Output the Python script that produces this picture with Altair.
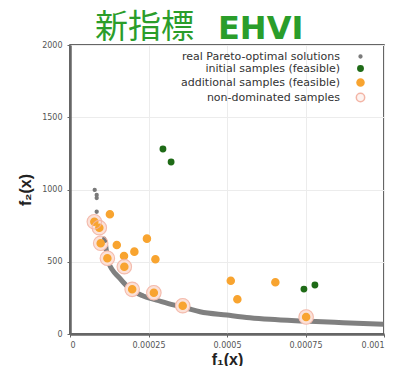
import altair as alt
import pandas as pd

# ---- data ----
curve_x = [0.000112, 0.000122, 0.000159, 0.000196, 0.000233, 0.000276, 0.000329,
           0.000372, 0.000414, 0.0005, 0.000573, 0.000637, 0.000743, 0.00087, 0.000998]
curve_y = [640, 500, 385, 304, 263, 235, 201, 178, 154, 131, 113, 102, 90, 78, 67]

pareto_dots_x = [0.0000787, 0.000085, 0.000085, 0.000085, 0.000109, 0.000112]
pareto_dots_y = [997, 962, 941, 846, 660, 645]

initial_x = [0.000296, 0.000322, 0.000745, 0.00078]
initial_y = [1280, 1190, 311, 339]

additional_x = [0.0000775, 0.0000934, 0.000127, 0.0000977, 0.000149, 0.000119,
                0.000172, 0.000205, 0.000173, 0.000245, 0.000272, 0.000198,
                0.000267, 0.000359, 0.000512, 0.000533, 0.000654, 0.000752]
additional_y = [777, 736, 828, 628, 616, 524, 540, 570, 466, 660, 517, 309,
                286, 196, 369, 240, 358, 118]

nondom_x = [0.0000775, 0.0000934, 0.0000977, 0.000119, 0.000173, 0.000198,
            0.000267, 0.000359, 0.000752]
nondom_y = [777, 736, 628, 524, 466, 309, 286, 196, 118]

series_names = ["real Pareto-optimal solutions", "initial samples (feasible)",
                "additional samples (feasible)", "non-dominated samples"]
x_ticks = [0, 0.00025, 0.0005, 0.00075, 0.001]
y_ticks = [0, 500, 1000, 1500, 2000]

# ---- tables ----
curve_df = pd.DataFrame({"x": curve_x, "y": curve_y})
pts = pd.concat([
    pd.DataFrame({"x": pareto_dots_x, "y": pareto_dots_y, "series": series_names[0]}),
    pd.DataFrame({"x": initial_x, "y": initial_y, "series": series_names[1]}),
    pd.DataFrame({"x": additional_x, "y": additional_y, "series": series_names[2]}),
], ignore_index=True)
rings = pd.DataFrame({"x": nondom_x, "y": nondom_y, "series": series_names[3]})

xenc = alt.X("x:Q", scale=alt.Scale(domain=[0, 0.001], nice=False),
             axis=alt.Axis(values=x_ticks, labelExpr="toString(datum.value)",
                           title="f₁(x)", grid=True, labelFontSize=8,
                           labelColor="#555", tickSize=3, labelPadding=4,
                           titleFontSize=16, titleFontWeight="bold",
                           titleColor="#222", titlePadding=2))
yenc = alt.Y("y:Q", scale=alt.Scale(domain=[0, 2000], nice=False),
             axis=alt.Axis(values=y_ticks, labelExpr="toString(datum.value)",
                           title="f₂(x)", grid=True,
                           labelFontSize=8, labelColor="#555", tickSize=3,
                           labelPadding=5, titleFontSize=16,
                           titleFontWeight="bold", titleColor="#222",
                           titlePadding=8))

curve = alt.Chart(curve_df).mark_line(
    color="#808080", strokeWidth=5, interpolate="monotone"
).encode(x=xenc, y=yenc)

leg = alt.Legend(orient="none", legendX=285, legendY=6, title=None,
                 labelAlign="right", labelOffset={"expr": "-26"},
                 labelFontSize=11, labelColor="#333",
                 labelFont="DejaVu Sans",
                 labelLimit=400, rowPadding=0, symbolStrokeWidth=1.5,
                 padding=0)

fill_scale = alt.Scale(domain=series_names,
                       range=["#7a7a7a", "#1f6b17", "#f8a430", "#fdf3f0"])
stroke_scale = alt.Scale(domain=series_names,
                         range=["#7a7a7a", "#1f6b17", "#f8a430", "#f3b5a6"])
size_scale = alt.Scale(domain=series_names, range=[8, 70, 70, 200])

# halo under non-dominated samples
halo = alt.Chart(rings).mark_point(
    filled=True, opacity=1, size=230, color="#fbe1d8", strokeWidth=0
).encode(x="x:Q", y="y:Q")

points = alt.Chart(pts).mark_point(
    filled=True, opacity=1, strokeWidth=1.5
).encode(
    x=alt.X("x:Q"), y=alt.Y("y:Q"),
    fill=alt.Fill("series:N", scale=fill_scale, legend=leg),
    stroke=alt.Stroke("series:N", scale=stroke_scale, legend=leg),
    size=alt.Size("series:N", scale=size_scale, legend=leg),
)

# legend entry for the non-dominated samples (drawn as rings)
ring_marks = alt.Chart(rings).mark_point(
    filled=False, opacity=0.85, strokeWidth=1.1, size=210
).encode(
    x="x:Q", y="y:Q",
    stroke=alt.Stroke("series:N", scale=stroke_scale, legend=leg),
)

title_cjk = alt.Chart(pd.DataFrame({"t": ["新指標"]})).mark_text(
    font="Noto Sans CJK JP", fontSize=33, color="#2a9d2a", align="left",
    baseline="alphabetic"
).encode(text="t:N", x=alt.value(25), y=alt.value(-7))

title_en = alt.Chart(pd.DataFrame({"t": ["EHVI"]})).mark_text(
    font="DejaVu Sans", fontSize=32, fontWeight="bold", color="#2a9d2a",
    align="left", baseline="alphabetic"
).encode(text="t:N", x=alt.value(148), y=alt.value(-6))

chart = alt.layer(curve, halo, points, ring_marks, title_cjk, title_en).properties(
    width=314, height=289,
    autosize=alt.AutoSizeParams(type="none"),
    padding={"left": 70, "top": 45, "right": 14, "bottom": 32},
).configure_view(
    stroke="#333", strokeWidth=1.5
).configure_axis(
    domainColor="#666", domainWidth=2.5, gridColor="#ececec",
    tickColor="#666", labelFont="DejaVu Sans",
    titleFont="Liberation Sans"
)

chart.save("out.html", embed_options={"renderer": "svg", "actions": False})
